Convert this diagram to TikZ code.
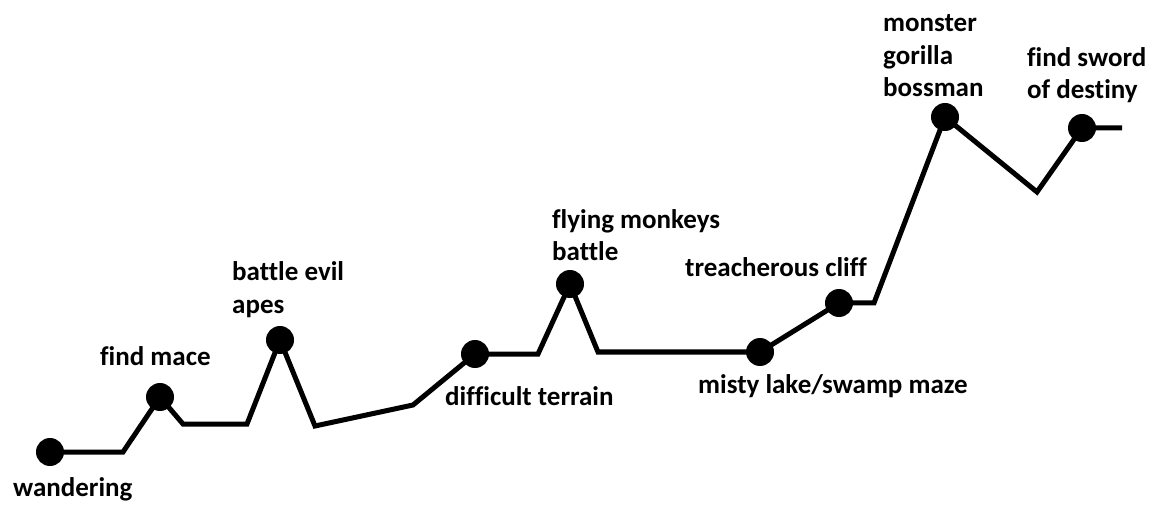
\documentclass[tikz,border=0pt]{standalone}
\usepackage{fontspec}
\setmainfont{Carlito}[Ligatures=NoCommon]
\usetikzlibrary{backgrounds}
\tikzset{
  dot/.style={circle, fill=black, minimum size=28pt, inner sep=0pt},
  trail/.style={line width=5pt, black, line join=miter},
  lbl/.style={anchor=base west, align=left, inner sep=0pt,
    font=\fontsize{27}{32.5}\selectfont\bfseries}
}
\begin{document}
\begin{tikzpicture}[x=1pt, y=-1pt]
\useasboundingbox (0,0) rectangle (1163,505);

% story milestones
\node[dot] (wander)  at (50,452)  {};
\node[dot] (mace)    at (160,397) {};
\node[dot] (apes)    at (280,340) {};
\node[dot] (terrain) at (475,354) {};
\node[dot] (monkeys) at (570,284) {};
\node[dot] (swamp)   at (760,352) {};
\node[dot] (cliff)   at (839,303) {};
\node[dot] (gorilla) at (945,117) {};
\node[dot] (sword)   at (1082,128) {};

% bends of the trail between milestones
\coordinate (b1) at (123,452);
\coordinate (b2) at (183,424);
\coordinate (b3) at (247,424);
\coordinate (b4) at (315,426);
\coordinate (b5) at (413,405);
\coordinate (b6) at (538,354);
\coordinate (b7) at (598,352);
\coordinate (b8) at (874,303);
\coordinate (b9) at (1037,192);
\coordinate (end) at (1122,128);

\begin{scope}[on background layer]
\draw[trail] (wander.center) -- (b1) -- (mace.center) -- (b2) -- (b3)
  -- (apes.center) -- (b4) -- (b5) -- (terrain.center) -- (b6)
  -- (monkeys.center) -- (b7) -- (swamp.center) -- (cliff.center)
  -- (b8) -- (gorilla.center) -- (b9) -- (sword.center) -- (end);
\end{scope}

% labels (base = baseline of the last line)
\node[lbl] (lwander)  at (13,496)  {wandering};
\node[lbl] (lmace)    at (100,365) {find mace};
\node[lbl] (lapes)    at (232,313) {battle evil\\apes};
\node[lbl] (lterrain) at (445,405) {difficult terrain};
\node[lbl] (lmonkeys) at (552,261) {flying monkeys\\battle};
\node[lbl] (lcliff)   at (685,277) {treacherous cliff};
\node[lbl] (lswamp)   at (698,393) {misty lake/swamp maze};
\node[lbl] (lgorilla) at (883,97)  {monster\\gorilla\\bossman};
\node[lbl] (lsword)   at (1027,99) {find sword\\of destiny};
\end{tikzpicture}
\end{document}
